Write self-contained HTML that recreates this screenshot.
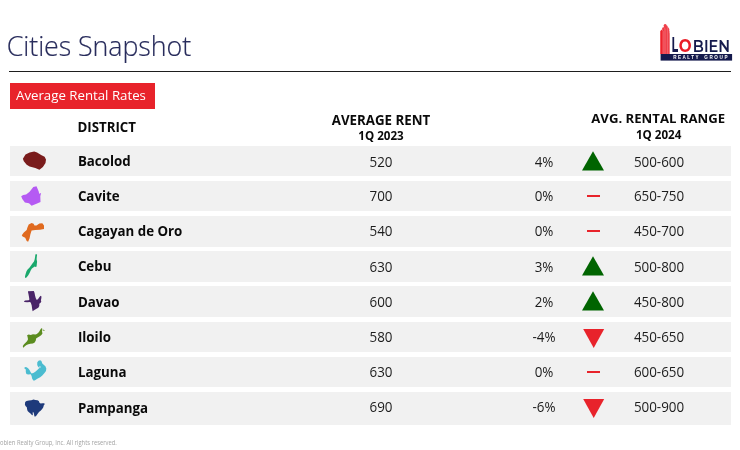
<!DOCTYPE html>
<html>
<head>
<meta charset="utf-8">
<style>
*{margin:0;padding:0;box-sizing:border-box}
html,body{width:740px;height:450px;overflow:hidden;background:#fff}
body{position:relative;font-family:"Open Sans","Liberation Sans",sans-serif;color:#222}
.abs{position:absolute;white-space:nowrap;line-height:1}
#title{left:6.7px;top:33.3px;font-size:26.8px;letter-spacing:-0.07px;font-weight:300;color:#282c5c;-webkit-text-stroke:0.18px #282c5c}
#rule{position:absolute;left:9px;top:71px;width:722px;height:1px;background:#1e1e1e}
#tag{position:absolute;left:10px;top:83px;width:145px;height:26px;background:#e8232b}
#tag span{position:absolute;left:6px;top:5.8px;font-size:13.25px;color:#fff;line-height:1;white-space:nowrap}
.hd{font-weight:700;font-size:13.3px;color:#0a0a0a}
.sub{font-weight:700;font-size:11.6px;color:#0a0a0a}
.row{position:absolute;left:10px;width:721px;height:30.4px;background:#f1f1f1}
.lo .nm{top:9.9px}
.up .c{top:7.7px}
.nm{position:absolute;left:67.9px;top:8.9px;font-weight:700;font-size:13.3px;color:#0a0a0a;line-height:1;white-space:nowrap}
.c{position:absolute;top:8.5px;font-size:13.4px;color:#1c1c1c;line-height:1;white-space:nowrap;text-align:center;width:80px;transform:scaleY(1.07);transform-origin:50% 1.5px}
.rent{left:331px}
.pct{left:494px}
.rng{left:609px}
.ind{position:absolute}
.dash{left:576.5px;top:14px;width:13.5px;height:2px;background:#e8232b}
#foot{left:-3.2px;top:439px;font-size:11.6px;color:#a4a4a4;transform:scale(0.503,0.56);transform-origin:0 0}
</style>
</head>
<body>
<div id="title" class="abs">Cities Snapshot</div>

<svg style="position:absolute;left:0;top:0" width="740" height="80" viewBox="0 0 740 80">
  <path fill="#ef2a34" d="M660.6 54 V30.9 Q660.7 29.6 661.9 29.8 L669.3 33.2 V54 Z"/>
  <path fill="#ef3640" d="M662.2 54 V28.4 Q662.4 27.0 663.6 27.2 L669.3 31.2 V54 Z"/>
  <path fill="#ef3f49" d="M663.8 54 V25.2 Q664.0 23.8 665.3 23.9 Q665.9 24.0 666.4 24.7 L669.3 29.0 V54 Z"/>
  <path d="M661.9 29.9 L663.2 31.4 V54 M663.6 27.3 L665.0 28.9 V54 M666.3 24.8 L667.6 26.7 V54" stroke="#f48890" stroke-width="0.5" fill="none"/>
  <path d="M660.9 31 V54" stroke="#f0121c" stroke-width="0.9" fill="none"/>
  <rect x="660.6" y="54" width="71.5" height="6.6" fill="#151a4d"/>
  <g font-family="Liberation Sans, Arial, sans-serif" font-weight="700" font-size="4.6" fill="#fff">
    <text x="673.2" y="58.9" textLength="25.3" lengthAdjust="spacing">REALTY</text>
    <text x="704.2" y="58.9" textLength="23.4" lengthAdjust="spacing">GROUP</text>
  </g>
  <text x="671.5" y="51.5" textLength="6.6" lengthAdjust="spacingAndGlyphs" font-family="Montserrat, Liberation Sans, sans-serif" font-weight="700" font-size="21" fill="#151a4d">L</text>
  <text x="678.7" y="51.75" textLength="12.8" lengthAdjust="spacingAndGlyphs" font-family="Montserrat, Liberation Sans, sans-serif" font-weight="700" font-size="17.2" fill="#ea1d27">O</text>
  <text x="692.8" y="51.9" textLength="37.3" lengthAdjust="spacingAndGlyphs" font-family="Montserrat, Liberation Sans, sans-serif" font-weight="600" font-size="15.7" fill="#151a4d">BIEN</text>
</svg>

<div id="rule"></div>

<div id="tag"><span>Average Rental Rates</span></div>

<div class="abs hd" style="left:77.4px;top:121.2px">DISTRICT</div>
<div class="abs hd" style="left:331px;top:114.2px;width:100px;text-align:center">AVERAGE RENT</div>
<div class="abs sub" style="left:331px;top:130.2px;width:100px;text-align:center">1Q 2023</div>
<div class="abs hd" style="left:558.2px;top:111.8px;width:200px;text-align:center;font-size:13.15px">AVG. RENTAL RANGE</div>
<div class="abs sub" style="left:558.7px;top:129px;width:200px;text-align:center">1Q 2024</div>

<div class="row" style="top:146px"><div class="nm">Bacolod</div><div class="c rent">520</div><div class="c pct">4%</div><svg class="ind" style="left:572.3px;top:4.8px" width="22" height="20"><path d="M11 0.3 L22 19.5 L0 19.5 Z" fill="#006400"/></svg><div class="c rng">500-600</div></div>
<div class="row up" style="top:181.1px"><div class="nm">Cavite</div><div class="c rent">700</div><div class="c pct">0%</div><div class="ind dash"></div><div class="c rng">650-750</div></div>
<div class="row up" style="top:216.2px"><div class="nm">Cagayan de Oro</div><div class="c rent">540</div><div class="c pct">0%</div><div class="ind dash"></div><div class="c rng">450-700</div></div>
<div class="row" style="top:251.3px"><div class="nm">Cebu</div><div class="c rent">630</div><div class="c pct">3%</div><svg class="ind" style="left:572.3px;top:4.8px" width="22" height="20"><path d="M11 0.3 L22 19.5 L0 19.5 Z" fill="#006400"/></svg><div class="c rng">500-800</div></div>
<div class="row lo" style="top:286.4px"><div class="nm">Davao</div><div class="c rent">600</div><div class="c pct">2%</div><svg class="ind" style="left:572.3px;top:4.8px" width="22" height="20"><path d="M11 0.3 L22 19.5 L0 19.5 Z" fill="#006400"/></svg><div class="c rng">450-800</div></div>
<div class="row lo" style="top:321.5px"><div class="nm">Iloilo</div><div class="c rent">580</div><div class="c pct">-4%</div><svg class="ind" style="left:572.5px;top:7.3px" width="22" height="20"><path d="M0.2 0 L21.2 0 L10.7 19 Z" fill="#e8232b"/></svg><div class="c rng">450-650</div></div>
<div class="row lo" style="top:356.6px"><div class="nm">Laguna</div><div class="c rent">630</div><div class="c pct">0%</div><div class="ind dash"></div><div class="c rng">600-650</div></div>
<div class="row lo" style="top:391.8px;height:32.8px"><div class="nm">Pampanga</div><div class="c rent">690</div><div class="c pct">-6%</div><svg class="ind" style="left:572.5px;top:7.3px" width="22" height="20"><path d="M0.2 0 L21.2 0 L10.7 19 Z" fill="#e8232b"/></svg><div class="c rng">500-900</div></div>

<svg style="position:absolute;left:0;top:140px" width="60" height="290" viewBox="0 140 60 290">
  <path fill="#7a1c1c" d="M22.9 158.7 L23.8 161.3 L26.7 164.8 L29.6 166.5 L35.3 167.9 L39.4 169.7 L42.9 167.1 L45.5 163 L46 159.6 L44.6 156.7 L41.1 154.9 L37.1 152.6 L34.2 151.6 L29.6 152.6 L25.5 154.4 Z"/>
  <path fill="#b55af3" d="M21.2 196.3 L23.2 195.1 L26.1 194.6 L29.6 191.7 L33.3 187 L36.5 186.2 L37.9 189.4 L38.8 191.7 L39.1 193.7 L41.1 193.1 L40.3 196.3 L40.5 202.1 L36.5 203.8 L31.6 205.8 L29 203.2 L24.9 202.4 L22.3 198.9 Z"/>
  <path fill="#e06a1f" d="M21.8 235.3 L23.8 232.5 L26.7 230.1 L27.5 227.2 L28.7 224.4 L31.6 222.9 L33.6 223.8 L34.5 225.5 L36.5 225.5 L39.4 223.5 L42.3 223.2 L44 225.5 L44 229 L40 229.8 L35.3 230.1 L31.6 230.4 L30.4 234.2 L29.6 238.2 L28.1 241.7 L26.7 241.1 L25.2 237.7 L22.6 236.5 Z"/>
  <path fill="#1aa86c" d="M36.1 253.9 L37.1 254.8 L36.8 257.1 L36.6 259.2 L37.1 261.7 L36.8 264.2 L36.6 266.4 L35.8 267.1 L34.7 266.5 L33.3 267.6 L31.9 268.6 L30.8 270.3 L29.7 272.8 L28.3 275.2 L26.5 277.4 L25.1 277.9 L25.0 276.3 L25.7 273.8 L26.5 271.3 L27.6 269.6 L29.4 267.8 L31.2 265.3 L32.6 263.2 L34.0 261.4 L34.7 259.2 L35.1 256.8 L35.4 254.6 Z"/>
  <path fill="#4a2468" d="M28.0 291.3 L33.8 291.0 L34.5 292.8 L35.1 295.7 L35.8 298.2 L36.8 300.1 L38.1 298.9 L39.3 297.2 L40.6 295.7 L41.5 296.4 L41.3 298.5 L40.9 300.3 L41.3 301.4 L40.6 302.8 L39.3 303.8 L39.3 306.0 L38.3 307.8 L36.5 308.8 L34.4 309.9 L32.6 311.2 L32.1 308.5 L31.7 305.6 L30.9 303.1 L30.1 302.1 L27.2 302.2 L24.4 302.1 L24.0 301.2 L25.1 300.6 L28.7 300.3 L29.4 299.6 L29.0 297.1 L28.5 294.2 L28.0 292.1 Z"/>
  <path fill="#5b8c1f" d="M23.1 347.4 L22.8 346.0 L24.0 344.2 L25.8 342.4 L27.2 341.0 L28.0 339.2 L27.6 337.1 L27.1 335.3 L28.7 334.6 L30.8 334.9 L32.9 334.2 L35.4 334.6 L36.8 333.9 L38.3 332.8 L39.3 331.4 L40.4 329.6 L41.3 328.2 L42.2 328.5 L42.3 330.0 L42.0 331.7 L42.5 333.2 L41.8 334.6 L40.8 335.6 L39.3 336.5 L37.6 337.4 L36.1 338.6 L35.8 340.6 L34.7 342.4 L32.9 343.5 L30.4 343.8 L28.3 344.2 L26.5 344.9 L24.8 346.2 L23.7 347.4 Z M43.3 329.6 L44.6 330.2 L44.2 331.0 L43.1 330.5 Z"/>
  <path fill="#4bbcd0" fill-rule="evenodd" d="M24.3 367.7 L25.5 366.9 L26.6 367.3 L28.1 368.3 L29.5 370.0 L30.7 372.3 L31.6 373.5 L33.3 372.9 L35.3 371.7 L37.3 370.0 L38.8 368.6 L39.4 368.0 L38.4 367.1 L37.6 366.0 L37.2 364.5 L37.3 362.2 L38.5 360.8 L40.2 360.2 L41.4 361.0 L42.3 363.4 L43.7 364.8 L45.4 366.2 L46.3 368.6 L46.0 370.9 L44.3 373.2 L42.3 375.5 L40.2 377.2 L37.3 378.7 L34.7 380.4 L33.3 380.4 L32.1 378.4 L31.6 376.1 L30.7 374.3 L28.1 374.6 L26.4 374.1 L25.8 372.0 L25.8 369.4 L24.9 368.8 L24.3 368.3 Z M39.2 366.9 A0.75 0.75 0 1 0 40.7 366.9 A0.75 0.75 0 1 0 39.2 366.9 Z"/>
  <path fill="#1e3a7b" d="M25.2 402.1 L26.5 401.1 L28.9 400.5 L31.3 400.3 L33.5 399.5 L35.3 400.0 L37.5 400.3 L38.8 401.1 L39.3 402.4 L40.6 403.5 L42.5 403.2 L44.4 403.2 L44.6 404.5 L43.8 405.3 L43.3 407.2 L42.2 409.1 L40.6 410.7 L39.0 412.0 L37.5 414.1 L36.1 416.0 L34.8 416.8 L34.3 415.7 L34.0 414.1 L33.5 412.5 L32.9 411.7 L32.7 413.6 L32.9 415.2 L31.9 414.9 L30.5 413.6 L28.9 412.2 L27.6 410.9 L27.1 409.3 L26.8 407.2 L25.5 406.1 L24.9 404.5 Z"/>
</svg>

<div id="foot" class="abs">Lobien Realty Group, Inc. All rights reserved.</div>
</body>
</html>
